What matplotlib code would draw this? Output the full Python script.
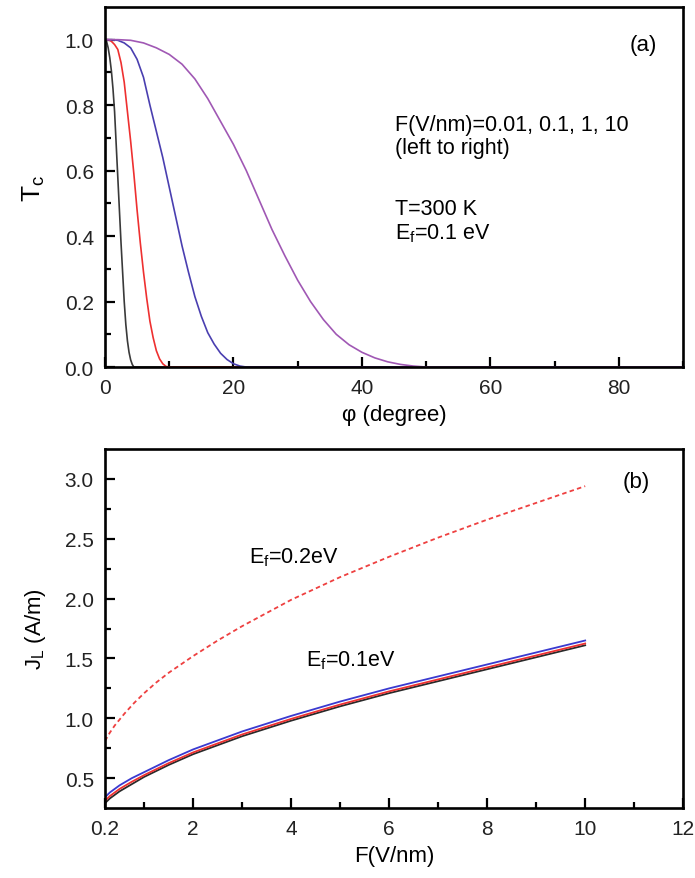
import matplotlib
matplotlib.use("Agg")
import matplotlib.pyplot as plt
from matplotlib.ticker import MultipleLocator, FixedLocator

plt.rcParams["font.family"] = ["Liberation Sans", "DejaVu Sans"]
plt.rcParams["mathtext.fontset"] = "custom"
plt.rcParams["mathtext.rm"] = "Liberation Sans"
plt.rcParams["mathtext.it"] = "Liberation Sans:italic"

# panel (a): Tc vs phi, F = 0.01, 0.1, 1, 10 V/nm
phi_001 = [0, 0.25, 0.5, 0.75, 1.0, 1.25, 1.5, 1.75, 2.0, 2.25, 2.5, 2.75, 3.0,
           3.25, 3.5, 3.75, 4.0, 4.25, 4.5, 90]
tc_001 = [1.0, 0.995, 0.975, 0.945, 0.905, 0.85, 0.78, 0.68, 0.58, 0.48, 0.38, 0.29, 0.2,
          0.13, 0.08, 0.045, 0.022, 0.008, 0.0, 0.0]
phi_01 = [0, 0.5, 1.0, 1.5, 2.0, 2.5, 3.0, 3.5, 4.0, 4.5, 5.0, 5.5, 6.0, 6.5, 7.0,
          7.5, 8.0, 8.5, 9.0, 9.5, 10.0, 90]
tc_01 = [1.0, 1.0, 0.995, 0.985, 0.97, 0.93, 0.87, 0.78, 0.69, 0.59, 0.48, 0.38, 0.29, 0.21, 0.14,
         0.09, 0.05, 0.025, 0.01, 0.002, 0.0, 0.0]
phi_1 = [0, 1, 2, 3, 4, 5, 6, 7, 8, 9, 10, 11, 12, 13, 14, 15, 16, 17, 18, 19, 20, 21, 22, 90]
tc_1 = [1.0, 1.0, 0.998, 0.99, 0.975, 0.94, 0.885, 0.80, 0.72, 0.64, 0.55, 0.46, 0.37, 0.29,
        0.215, 0.155, 0.105, 0.07, 0.042, 0.023, 0.01, 0.003, 0.0, 0.0]
phi_10 = [0, 2, 4, 6, 8, 10, 12, 14, 16, 18, 20, 22, 24, 26, 28, 30, 32, 34, 36, 38, 40,
          42, 44, 46, 48, 50, 90]
tc_10 = [1.0, 1.0, 0.998, 0.99, 0.975, 0.955, 0.925, 0.88, 0.82, 0.75, 0.68, 0.60, 0.51, 0.42,
         0.34, 0.265, 0.2, 0.145, 0.10, 0.068, 0.045, 0.028, 0.016, 0.008, 0.003, 0.0, 0.0]

# panel (b): J_L vs F
field = [0.2, 0.3, 0.5, 0.75, 1, 1.5, 2, 2.5, 3, 4, 5, 6, 7, 8, 9, 10]
jl_01_black = [0.29, 0.33, 0.39, 0.45, 0.51, 0.61, 0.70, 0.775, 0.85, 0.98, 1.10, 1.21, 1.31, 1.41, 1.51, 1.61]
jl_01_red = [0.31, 0.35, 0.41, 0.47, 0.525, 0.625, 0.715, 0.79, 0.865, 0.995, 1.115, 1.225, 1.325, 1.425, 1.525, 1.625]
jl_01_blue = [0.34, 0.38, 0.44, 0.50, 0.55, 0.65, 0.74, 0.815, 0.89, 1.02, 1.14, 1.25, 1.35, 1.45, 1.55, 1.65]
field_02 = [0.2, 0.3, 0.4, 0.6, 0.8, 1.0, 1.25, 1.5, 2, 2.5, 3, 3.5, 4, 5, 6, 7, 8, 9, 10]
jl_02 = [0.81, 0.88, 0.94, 1.04, 1.13, 1.21, 1.30, 1.38, 1.52, 1.65, 1.77, 1.88, 1.99, 2.18, 2.35,
         2.51, 2.66, 2.80, 2.94]

fig = plt.figure(figsize=(6.95, 8.79), dpi=100)
ax1 = fig.add_axes([0.151, 0.5813, 0.832, 0.4097])
ax2 = fig.add_axes([0.151, 0.0796, 0.832, 0.4084])

for ax in (ax1, ax2):
    for s in ax.spines.values():
        s.set_linewidth(1.9)
    ax.tick_params(which="both", direction="in", top=False, right=False,
                   width=1.6, labelsize=15, labelcolor="#222222")
    ax.tick_params(which="major", length=7, pad=8)
    ax.tick_params(which="minor", length=4)

# (a)
ax1.plot(phi_001, tc_001, color="#3a3a3a", lw=1.2)
ax1.plot(phi_01, tc_01, color="#ee3030", lw=1.2)
ax1.plot(phi_1, tc_1, color="#4a3fb0", lw=1.2)
ax1.plot(phi_10, tc_10, color="#a058b4", lw=1.2)
ax1.set_xlim(0, 90)
ax1.set_ylim(0, 1.1)
ax1.xaxis.set_major_locator(MultipleLocator(20))
ax1.xaxis.set_minor_locator(MultipleLocator(10))
ax1.yaxis.set_major_locator(FixedLocator([0, 0.2, 0.4, 0.6, 0.8, 1.0]))
ax1.yaxis.set_minor_locator(FixedLocator([0.1, 0.3, 0.5, 0.7, 0.9]))
ax1.set_xlabel("φ (degree)", fontsize=16, labelpad=5)
ax1.set_ylabel(r"T$_\mathregular{c}$", fontsize=19, labelpad=13)
ax1.text(0.955, 0.897, "(a)", transform=ax1.transAxes, fontsize=16, ha="right", va="center")
ax1.text(0.502, 0.703, "F(V/nm)=0.01, 0.1, 1, 10\n(left to right)", transform=ax1.transAxes,
         fontsize=15.5, va="top", linespacing=1.15)
ax1.text(0.502, 0.47, "T=300 K\n" + r"E$_\mathregular{f}$=0.1 eV", transform=ax1.transAxes,
         fontsize=15.5, va="top", linespacing=1.15)

# (b)
ax2.plot(field, jl_01_black, color="#2a2a2a", lw=1.3)
ax2.plot(field, jl_01_red, color="#ee3030", lw=1.3)
ax2.plot(field, jl_01_blue, color="#3a3ad0", lw=1.3)
ax2.plot(field_02, jl_02, color="#ee4040", lw=1.3, ls=(0, (2.5, 1.8)))
ax2.set_xlim(0.2, 12)
ax2.set_ylim(0.25, 3.25)
ax2.set_xticks([0.2, 2, 4, 6, 8, 10, 12])
ax2.set_xticklabels(["0.2", "2", "4", "6", "8", "10", "12"])
ax2.xaxis.set_minor_locator(FixedLocator([1, 3, 5, 7, 9, 11]))
ax2.yaxis.set_major_locator(FixedLocator([0.5, 1.0, 1.5, 2.0, 2.5, 3.0]))
ax2.yaxis.set_minor_locator(FixedLocator([0.75, 1.25, 1.75, 2.25, 2.75]))
ax2.yaxis.set_major_formatter(plt.FormatStrFormatter("%.1f"))
ax2.set_xlabel("F(V/nm)", fontsize=16, labelpad=5)
ax2.set_ylabel(r"J$_\mathregular{L}$ (A/m)", fontsize=16, labelpad=12)
ax2.text(0.943, 0.91, "(b)", transform=ax2.transAxes, fontsize=16, ha="right", va="center")
ax2.text(3.14, 2.35, r"E$_\mathregular{f}$=0.2eV", fontsize=15.5, va="center")
ax2.text(4.3, 1.49, r"E$_\mathregular{f}$=0.1eV", fontsize=15.5, va="center")

fig.savefig("out.png", dpi=100)
